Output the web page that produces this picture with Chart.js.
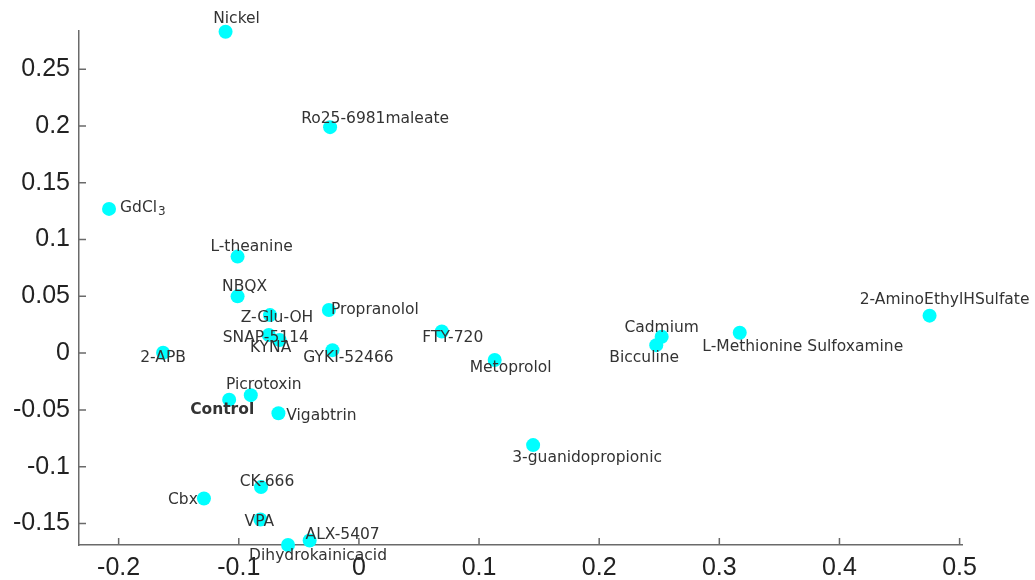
<!DOCTYPE html>
<html>
<head>
<meta charset="utf-8">
<script src="https://cdn.jsdelivr.net/npm/chart.js@4.4.1/dist/chart.umd.min.js"></script>
<style>
html, body { margin: 0; padding: 0; background: #fff; }
</style>
</head>
<body>
<canvas id="pca" width="1035" height="580"></canvas>
<script>
// compounds and their two coordinates
var names = ['Nickel', 'Ro25-6981maleate', 'GdCl\u2083', 'L-theanine', 'NBQX', 'Z-Glu-OH',
    'Propranolol', 'SNAP-5114', 'KYNA', 'GYKI-52466', 'FTY-720', '2-APB', 'Picrotoxin',
    'Control', 'Vigabtrin', 'CK-666', 'Cbx', 'VPA', 'ALX-5407', 'Dihydrokainicacid',
    'Metoprolol', '3-guanidopropionic', 'Cadmium', 'Bicculine', 'L-Methionine Sulfoxamine',
    '2-AminoEthylHSulfate'];
var xValues = [-0.111, -0.024, -0.208, -0.101, -0.101, -0.074,
    -0.025, -0.075, -0.066, -0.022, 0.069, -0.163, -0.090,
    -0.108, -0.067, -0.0815, -0.129, -0.082, -0.041, -0.059,
    0.113, 0.145, 0.252, 0.2475, 0.317,
    0.475];
var yValues = [0.283, 0.199, 0.127, 0.085, 0.050, 0.0335,
    0.038, 0.016, 0.0115, 0.0026, 0.019, 0.0003, -0.037,
    -0.041, -0.053, -0.118, -0.128, -0.1465, -0.165, -0.169,
    -0.006, -0.081, 0.0144, 0.007, 0.018,
    0.033];

var xTicks = [-0.2, -0.1, 0, 0.1, 0.2, 0.3, 0.4, 0.5];
var xTickLabels = ['-0.2', '-0.1', '0', '0.1', '0.2', '0.3', '0.4', '0.5'];
var yTicks = [-0.15, -0.1, -0.05, 0, 0.05, 0.1, 0.15, 0.2, 0.25];
var yTickLabels = ['-0.15', '-0.1', '-0.05', '0', '0.05', '0.1', '0.15', '0.2', '0.25'];

// where each label sits relative to its dot (pixels, centre of text)
var labelShift = {
    'Nickel': [11, -13], 'Ro25-6981maleate': [45, -8], 'L-theanine': [14, -10],
    'NBQX': [7, -9], 'Z-Glu-OH': [7, 3], 'Propranolol': [46, 0], 'SNAP-5114': [-3, 3],
    'KYNA': [-9, 8], 'GYKI-52466': [16, 8], 'FTY-720': [11, 6], '2-APB': [0, 5],
    'Picrotoxin': [13, -10], 'Control': [-7, 10], 'Vigabtrin': [43, 3], 'CK-666': [6, -5],
    'Cbx': [-21, 2], 'VPA': [-1, 3], 'ALX-5407': [33, -5], 'Dihydrokainicacid': [30, 11],
    'Metoprolol': [16, 8], '3-guanidopropionic': [54, 13], 'Cadmium': [0, -9],
    'Bicculine': [-12, 13], 'L-Methionine Sulfoxamine': [63, 14], '2-AminoEthylHSulfate': [15, -16]
};

var points = [];
for (var i = 0; i < names.length; i++) {
    points.push({ x: xValues[i], y: yValues[i] });
}

var axisColor = '#6a6a6a';

var pointLabels = {
    id: 'pointLabels',
    afterDatasetsDraw: function(chart) {
        var ctx = chart.ctx;
        var meta = chart.getDatasetMeta(0);
        ctx.save();
        ctx.fillStyle = '#333';
        ctx.textBaseline = 'middle';
        meta.data.forEach(function(pt, i) {
            var name = names[i];
            if (name.indexOf('GdCl') === 0) {
                ctx.font = '15.5px "DejaVu Sans"';
                ctx.textAlign = 'left';
                ctx.fillText('GdCl', pt.x + 11, pt.y - 1);
                var w = ctx.measureText('GdCl').width;
                ctx.font = '12px "DejaVu Sans"';
                ctx.fillText('3', pt.x + 11 + w + 1, pt.y + 3);
                return;
            }
            var s = labelShift[name] || [0, 0];
            ctx.font = (name === 'Control' ? 'bold ' : '') + '15.5px "DejaVu Sans"';
            ctx.textAlign = 'center';
            ctx.fillText(name, pt.x + s[0], pt.y + s[1]);
        });
        ctx.restore();
    }
};

// short tick marks pointing into the plot
var innerTicks = {
    id: 'innerTicks',
    afterDraw: function(chart) {
        var ctx = chart.ctx;
        var a = chart.chartArea;
        var xs = chart.scales.x, ys = chart.scales.y;
        ctx.save();
        ctx.strokeStyle = axisColor;
        ctx.lineWidth = 1.5;
        ctx.beginPath();
        xTicks.forEach(function(v) {
            var px = xs.getPixelForValue(v);
            ctx.moveTo(px, a.bottom);
            ctx.lineTo(px, a.bottom - 7);
        });
        yTicks.forEach(function(v) {
            var py = ys.getPixelForValue(v);
            ctx.moveTo(a.left, py);
            ctx.lineTo(a.left + 7, py);
        });
        ctx.stroke();
        ctx.restore();
    }
};

var ctx = document.getElementById('pca');
var g = new Chart(ctx, {
    type: 'scatter',
    data: {
        datasets: [{
            label: 'compounds',
            data: points,
            backgroundColor: '#00ffff',
            borderWidth: 0,
            pointRadius: 7,
            pointHoverRadius: 7,
            clip: false
        }]
    },
    options: {
        responsive: false,
        animation: false,
        events: [],
        layout: { padding: { left: 0, right: 73, top: 31, bottom: 0 } },
        plugins: {
            legend: { display: false },
            tooltip: { enabled: false }
        },
        scales: {
            x: {
                type: 'linear',
                min: -0.233,
                max: 0.502,
                grid: { display: false, drawTicks: false },
                border: { display: true, color: axisColor, width: 1.5 },
                ticks: {
                    padding: 8,
                    color: '#222',
                    font: { family: '"Liberation Sans", Arial, sans-serif', size: 25 },
                    maxRotation: 0,
                    autoSkip: false,
                    callback: function(v) {
                        var k = xTicks.indexOf(v);
                        return k >= 0 ? xTickLabels[k] : '';
                    }
                },
                afterBuildTicks: function(s) {
                    s.ticks = xTicks.map(function(v) { return { value: v }; });
                },
                afterFit: function(s) { s.height = 35; }
            },
            y: {
                type: 'linear',
                min: -0.169,
                max: 0.2837,
                grid: { display: false, drawTicks: false },
                border: { display: true, color: axisColor, width: 1.5 },
                ticks: {
                    padding: 9,
                    color: '#222',
                    font: { family: '"Liberation Sans", Arial, sans-serif', size: 25 },
                    autoSkip: false,
                    callback: function(v) {
                        var k = yTicks.indexOf(v);
                        return k >= 0 ? yTickLabels[k] : '';
                    }
                },
                afterBuildTicks: function(s) {
                    s.ticks = yTicks.map(function(v) { return { value: v }; });
                },
                afterFit: function(s) { s.width = 79; }
            }
        }
    },
    plugins: [pointLabels, innerTicks]
});
</script>
</body>
</html>
